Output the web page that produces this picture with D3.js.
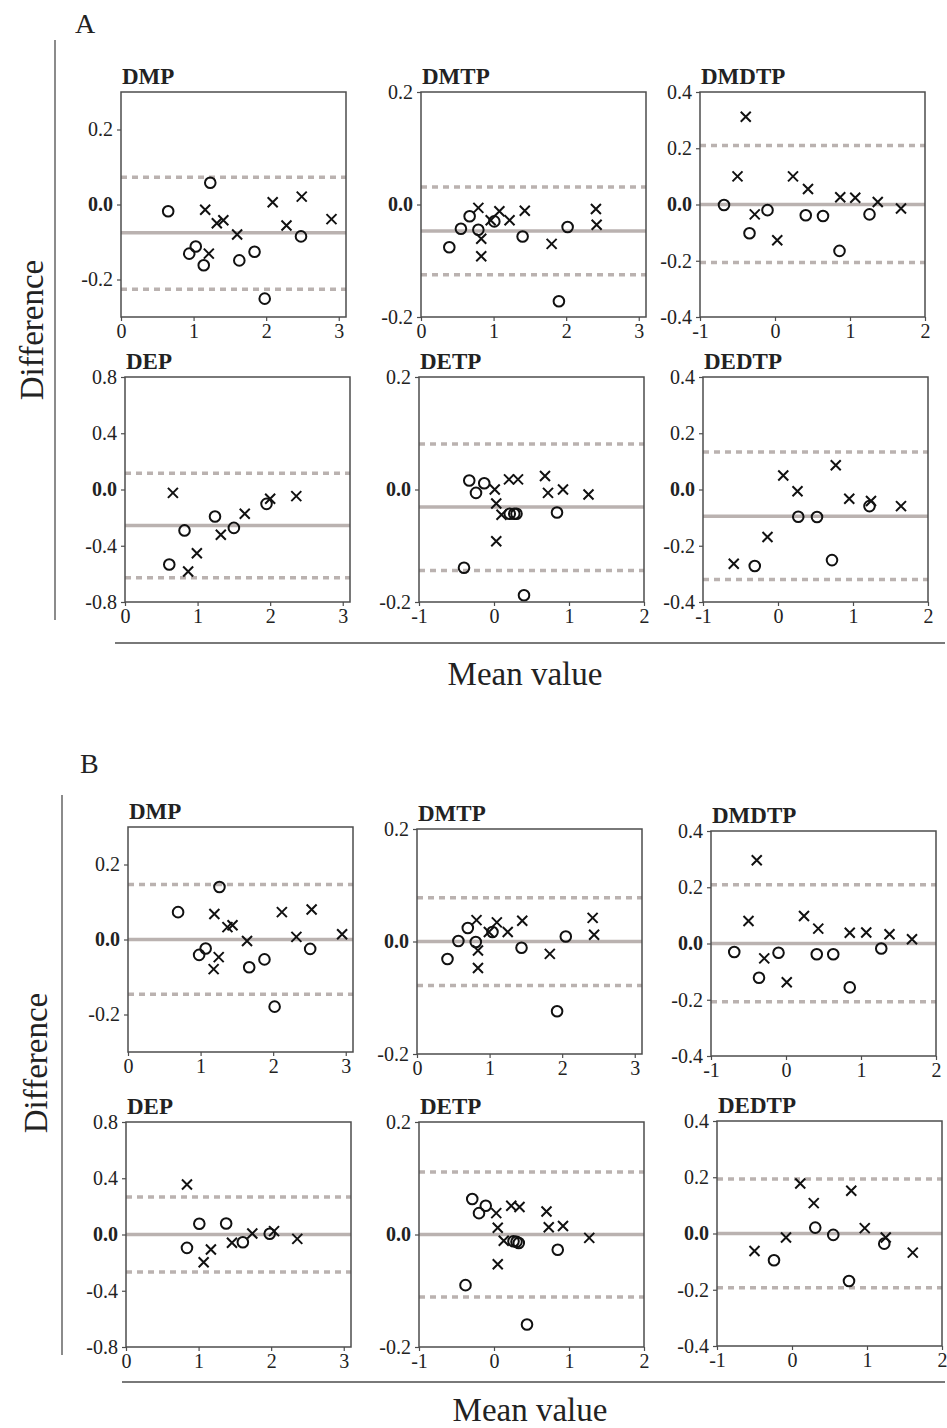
<!DOCTYPE html>
<html>
<head>
<meta charset="utf-8">
<script src="https://cdn.jsdelivr.net/npm/d3@7"></script>
<style>
  body { margin: 0; background: #fff; }
  svg text { font-family: "Liberation Serif", "Times New Roman", serif; fill: #222; }
</style>
</head>
<body>
<script>
// panel names, same order in both groups
var panelNames = ["DMP", "DMTP", "DMDTP", "DEP", "DETP", "DEDTP"];

// axis ranges and tick values per panel name
var xDomains = [[0, 3.1], [0, 3.1], [-1, 2], [0, 3.1], [-1, 2], [-1, 2]];
var yDomains = [[-0.3, 0.3], [-0.2, 0.2], [-0.4, 0.4], [-0.8, 0.8], [-0.2, 0.2], [-0.4, 0.4]];
var xTickValues = [[0, 1, 2, 3], [0, 1, 2, 3], [-1, 0, 1, 2], [0, 1, 2, 3], [-1, 0, 1, 2], [-1, 0, 1, 2]];
var yTickValues = [[-0.2, 0, 0.2], [-0.2, 0, 0.2], [-0.4, -0.2, 0, 0.2, 0.4],
                   [-0.8, -0.4, 0, 0.4, 0.8], [-0.2, 0, 0.2], [-0.4, -0.2, 0, 0.2, 0.4]];

// bias (mean difference) and limits of agreement
var meanA  = [-0.075, -0.047, 0.0, -0.256, -0.031, -0.095];
var upperA = [0.073, 0.031, 0.21, 0.116, 0.081, 0.133];
var lowerA = [-0.226, -0.125, -0.206, -0.628, -0.144, -0.320];
var meanB  = [0, 0, 0, 0, 0, 0];
var upperB = [0.147, 0.078, 0.209, 0.266, 0.111, 0.194];
var lowerB = [-0.146, -0.078, -0.207, -0.266, -0.111, -0.193];

// points [mean value, difference]; circles and crosses
var aDmpO = [[0.65,-0.018],[1.23,0.058],[0.94,-0.131],[1.03,-0.112],[1.14,-0.162],[1.63,-0.149],[1.84,-0.126],[1.98,-0.251],[2.48,-0.085]];
var aDmpX = [[1.16,-0.014],[1.21,-0.131],[1.32,-0.050],[1.41,-0.042],[1.60,-0.080],[2.09,0.006],[2.28,-0.056],[2.49,0.021],[2.90,-0.039]];
var aDmtpO = [[0.39,-0.076],[0.55,-0.043],[0.67,-0.021],[0.79,-0.045],[1.01,-0.030],[1.40,-0.057],[1.90,-0.172],[2.02,-0.040]];
var aDmtpX = [[0.79,-0.006],[0.83,-0.061],[0.83,-0.092],[0.96,-0.028],[1.08,-0.012],[1.22,-0.028],[1.43,-0.011],[1.80,-0.070],[2.41,-0.008],[2.42,-0.036]];
var aDmdtpO = [[-0.68,-0.002],[-0.34,-0.102],[-0.10,-0.020],[0.41,-0.038],[0.64,-0.041],[0.86,-0.165],[1.26,-0.035]];
var aDmdtpX = [[-0.39,0.312],[-0.50,0.100],[-0.27,-0.035],[0.03,-0.127],[0.24,0.100],[0.44,0.055],[0.87,0.026],[1.07,0.024],[1.37,0.009],[1.68,-0.014]];
var aDepO = [[0.61,-0.533],[0.82,-0.291],[1.24,-0.192],[1.50,-0.273],[1.95,-0.102]];
var aDepX = [[0.66,-0.024],[0.87,-0.583],[0.99,-0.453],[1.32,-0.322],[1.65,-0.173],[2.00,-0.066],[2.36,-0.047]];
var aDetpO = [[-0.33,0.016],[-0.24,-0.006],[-0.13,0.011],[0.21,-0.043],[0.27,-0.043],[0.30,-0.043],[0.84,-0.041],[-0.40,-0.139],[0.40,-0.188]];
var aDetpX = [[0.01,0.0],[0.03,-0.025],[0.10,-0.045],[0.03,-0.092],[0.20,0.018],[0.32,0.018],[0.68,0.024],[0.72,-0.006],[0.92,0.0],[1.26,-0.009]];
var aDedtpO = [[-0.31,-0.272],[0.27,-0.097],[0.52,-0.098],[0.72,-0.251],[1.22,-0.059]];
var aDedtpX = [[-0.59,-0.264],[-0.14,-0.169],[0.07,0.050],[0.26,-0.006],[0.77,0.086],[0.95,-0.033],[1.24,-0.041],[1.64,-0.059]];

var bDmpO = [[0.69,0.073],[1.26,0.140],[0.98,-0.041],[1.07,-0.024],[1.67,-0.074],[1.88,-0.053],[2.02,-0.179],[2.51,-0.025]];
var bDmpX = [[1.19,0.068],[1.25,-0.047],[1.18,-0.079],[1.37,0.033],[1.44,0.038],[1.64,-0.004],[2.12,0.073],[2.32,0.007],[2.53,0.080],[2.95,0.014]];
var bDmtpO = [[0.42,-0.031],[0.57,0.001],[0.70,0.024],[0.81,-0.001],[1.04,0.017],[1.44,-0.011],[1.93,-0.124],[2.05,0.009]];
var bDmtpX = [[0.82,0.038],[0.84,-0.016],[0.84,-0.047],[0.99,0.017],[1.10,0.034],[1.25,0.017],[1.45,0.037],[1.83,-0.022],[2.42,0.042],[2.44,0.012]];
var bDmdtpO = [[-0.69,-0.030],[-0.36,-0.122],[-0.10,-0.033],[0.41,-0.038],[0.63,-0.038],[0.85,-0.156],[1.27,-0.018]];
var bDmdtpX = [[-0.39,0.296],[-0.50,0.080],[-0.29,-0.053],[0.01,-0.138],[0.24,0.098],[0.43,0.053],[0.85,0.038],[1.07,0.039],[1.38,0.033],[1.68,0.015]];
var bDepO = [[0.84,-0.095],[1.01,0.076],[1.38,0.078],[1.61,-0.055],[1.98,0.005]];
var bDepX = [[0.84,0.356],[1.07,-0.197],[1.17,-0.107],[1.46,-0.059],[1.74,0.007],[2.04,0.024],[2.36,-0.031]];
var bDetpO = [[-0.29,0.063],[-0.20,0.038],[-0.11,0.051],[0.26,-0.012],[0.30,-0.013],[0.33,-0.015],[0.85,-0.027],[-0.38,-0.090],[0.44,-0.160]];
var bDetpX = [[0.03,0.038],[0.05,0.012],[0.13,-0.011],[0.05,-0.053],[0.23,0.051],[0.34,0.049],[0.70,0.041],[0.73,0.013],[0.92,0.015],[1.27,-0.006]];
var bDedtpO = [[-0.24,-0.095],[0.31,0.021],[0.55,-0.005],[0.76,-0.169],[1.23,-0.036]];
var bDedtpX = [[-0.50,-0.062],[-0.08,-0.014],[0.11,0.178],[0.29,0.108],[0.79,0.152],[0.97,0.019],[1.25,-0.014],[1.61,-0.068]];

var circlesA = [aDmpO, aDmtpO, aDmdtpO, aDepO, aDetpO, aDedtpO];
var crossesA = [aDmpX, aDmtpX, aDmdtpX, aDepX, aDetpX, aDedtpX];
var circlesB = [bDmpO, bDmtpO, bDmdtpO, bDepO, bDetpO, bDedtpO];
var crossesB = [bDmpX, bDmtpX, bDmdtpX, bDepX, bDetpX, bDedtpX];

// ---- layout (pixel placement of each panel frame) ----
var panelW = 225, panelH = 225;
var originsA = [[121, 92], [421, 92], [700, 92], [125, 377], [419, 377], [703, 377]];
var originsB = [[128, 827], [417, 829], [711, 831], [126, 1122], [419, 1122], [717, 1121]];

var grey = "#bab2b0";
var frameColor = "#4d4d4d";

var svg = d3.select("body").append("svg")
    .attr("width", 947)
    .attr("height", 1428);

function drawPanel(i, origin, circles, crosses, bias, upper, lower){
    var g = svg.append("g").attr("transform", "translate(" + origin[0] + "," + origin[1] + ")");

    var x = d3.scaleLinear().domain(xDomains[i]).range([0, panelW]);
    var y = d3.scaleLinear().domain(yDomains[i]).range([panelH, 0]);

    //limits of agreement first, so markers sit on top
    [upper[i], lower[i]].forEach(function(v){
        g.append("line")
            .attr("x1", 0).attr("x2", panelW)
            .attr("y1", y(v)).attr("y2", y(v))
            .attr("stroke", grey).attr("stroke-width", 3.5)
            .attr("stroke-dasharray", "6,5");
    });
    g.append("line")
        .attr("x1", 0).attr("x2", panelW)
        .attr("y1", y(bias[i])).attr("y2", y(bias[i]))
        .attr("stroke", grey).attr("stroke-width", 3.5);

    g.selectAll(".pt-o").data(circles).enter()
        .append("circle")
        .attr("class", "pt-o")
        .attr("cx", function(d){ return x(d[0]); })
        .attr("cy", function(d){ return y(d[1]); })
        .attr("r", 5.3)
        .attr("fill", "none")
        .attr("stroke", "#111")
        .attr("stroke-width", 2);

    var s = 5;
    g.selectAll(".pt-x").data(crosses).enter()
        .append("path")
        .attr("class", "pt-x")
        .attr("d", function(d){
            var cx = x(d[0]), cy = y(d[1]);
            return "M" + (cx - s) + "," + (cy - s) + "L" + (cx + s) + "," + (cy + s) +
                   "M" + (cx - s) + "," + (cy + s) + "L" + (cx + s) + "," + (cy - s);
        })
        .attr("stroke", "#111")
        .attr("stroke-width", 2);

    g.append("rect")
        .attr("width", panelW).attr("height", panelH)
        .attr("fill", "none")
        .attr("stroke", frameColor)
        .attr("stroke-width", 1.5);

    var yAxis = d3.axisLeft(y)
        .tickValues(yTickValues[i])
        .tickSize(4).tickSizeOuter(0).tickPadding(4)
        .tickFormat(function(d){ return d.toFixed(1).replace("-0.0", "0.0"); });
    var ya = g.append("g").call(yAxis);
    ya.select(".domain").remove();
    ya.selectAll("line").attr("stroke", frameColor).attr("stroke-width", 1.2);
    ya.selectAll("text")
        .style("font-size", "20px")
        .style("font-family", "'Liberation Serif', serif")
        .style("fill", "#222")
        .style("font-weight", function(d){ return d === 0 ? "bold" : "normal"; });

    var xAxis = d3.axisBottom(x)
        .tickValues(xTickValues[i])
        .tickSize(4).tickSizeOuter(0).tickPadding(3)
        .tickFormat(function(d){ return String(d); });
    var xa = g.append("g").attr("transform", "translate(0," + panelH + ")").call(xAxis);
    xa.select(".domain").remove();
    xa.selectAll("line").attr("stroke", frameColor).attr("stroke-width", 1.2);
    xa.selectAll("text")
        .style("font-size", "20px")
        .style("font-family", "'Liberation Serif', serif")
        .style("fill", "#222");

    g.append("text")
        .attr("x", 1).attr("y", -8)
        .style("font-size", "23px")
        .style("font-weight", "bold")
        .text(panelNames[i]);
}

function drawGroup(letter, letterPos, origins, circles, crosses, bias, upper, lower, frame){
    svg.append("text")
        .attr("x", letterPos[0]).attr("y", letterPos[1])
        .style("font-size", "28px")
        .text(letter);

    panelNames.forEach(function(name, i){
        drawPanel(i, origins[i], circles[i], crosses[i], bias, upper, lower);
    });

    //bracket lines along the left and bottom of the group
    svg.append("line")
        .attr("x1", frame.vx).attr("x2", frame.vx)
        .attr("y1", frame.vy1).attr("y2", frame.vy2)
        .attr("stroke", frameColor).attr("stroke-width", 1.3);
    svg.append("line")
        .attr("x1", frame.hx1).attr("x2", frame.hx2)
        .attr("y1", frame.hy).attr("y2", frame.hy)
        .attr("stroke", frameColor).attr("stroke-width", 1.3);

    svg.append("text")
        .attr("transform", "translate(" + frame.ylabX + "," + frame.ylabY + ") rotate(-90)")
        .attr("text-anchor", "middle")
        .style("font-size", "33px")
        .text("Difference");

    svg.append("text")
        .attr("x", frame.xlabX).attr("y", frame.xlabY)
        .attr("text-anchor", "middle")
        .style("font-size", "33px")
        .text("Mean value");
}

drawGroup("A", [75, 33], originsA, circlesA, crossesA, meanA, upperA, lowerA,
    {vx: 55, vy1: 40, vy2: 620, hx1: 115, hx2: 945, hy: 643,
     ylabX: 43, ylabY: 330, xlabX: 525, xlabY: 685});

drawGroup("B", [80, 773], originsB, circlesB, crossesB, meanB, upperB, lowerB,
    {vx: 62, vy1: 795, vy2: 1355, hx1: 122, hx2: 945, hy: 1382,
     ylabX: 47, ylabY: 1063, xlabX: 530, xlabY: 1421});
</script>
</body>
</html>
